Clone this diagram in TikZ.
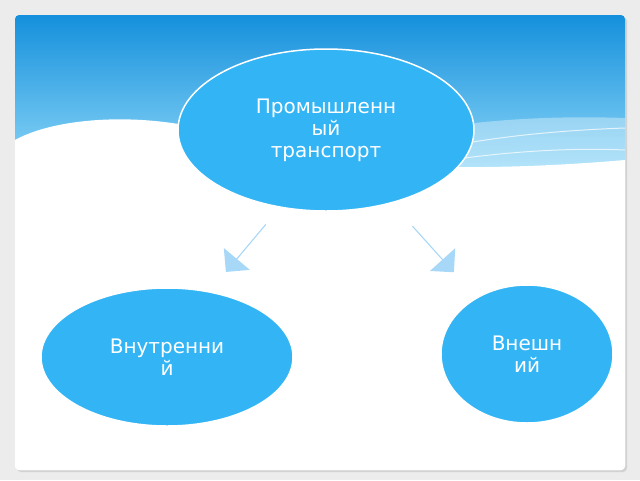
\documentclass[tikz,border=0pt]{standalone}
\usepackage{fontspec}
\setmainfont{DejaVu Sans}
\usetikzlibrary{shapes.arrows}
\definecolor{bub}{HTML}{33B5F5}
\definecolor{arr}{HTML}{A8D8F8}
\definecolor{topb}{HTML}{1590DC}
\definecolor{lowb}{HTML}{8FD8F8}
\tikzset{bubble/.style={ellipse,fill=bub,draw=white,line width=1.5pt,text=white,font=\fontsize{20}{22}\selectfont,align=center,inner sep=0pt},
blockarrow/.style={fill=arr,draw=none}}
\usetikzlibrary{shapes.geometric}
\begin{document}
\begin{tikzpicture}[x=1pt,y=-1pt]
\useasboundingbox (0,0) rectangle (640,480);
\fill[gray!15] (0,0) rectangle (640,480);
\fill[gray!35,rounded corners=4pt] (17,17) rectangle (627,472);
\fill[white,rounded corners=4pt] (15,15) rectangle (625,470);
\begin{scope}
\clip[rounded corners=4pt] (15,15) rectangle (625,470);
\shade[top color=topb,bottom color=lowb] (15,15) rectangle (625,175);
\fill[white,opacity=0.35] (300,160) .. controls (420,120) and (540,115) .. (625,118) -- (625,175) -- (300,175) -- cycle;
\fill[white] (15,140) .. controls (60,115) and (160,110) .. (240,140)
 .. controls (320,165) and (450,175) .. (625,160) -- (625,470) -- (15,470) -- cycle;
\draw[white,line width=1pt,opacity=0.7] (430,150) .. controls (500,135) and (570,130) .. (625,128);
\draw[white,line width=1pt,opacity=0.7] (450,160) .. controls (520,150) and (580,148) .. (625,150);
\end{scope}
\node[bubble,minimum width=296pt,minimum height=162pt] (top) at (326,130) {Промышленн\\ый\\транспорт};
\node[bubble,minimum width=252pt,minimum height=138pt] (left) at (167,357) {Внутренни\\й};
\node[bubble,minimum width=172pt,minimum height=138pt] (right) at (527,354) {Внешн\\ий};
\node[blockarrow,single arrow,minimum height=62pt,minimum width=34pt,single arrow head extend=6pt,inner sep=0pt,rotate=-130] (a1) at (246,248) {};
\node[blockarrow,single arrow,minimum height=62pt,minimum width=34pt,single arrow head extend=6pt,inner sep=0pt,rotate=-48] (a2) at (433,249) {};
\end{tikzpicture}
\end{document}
